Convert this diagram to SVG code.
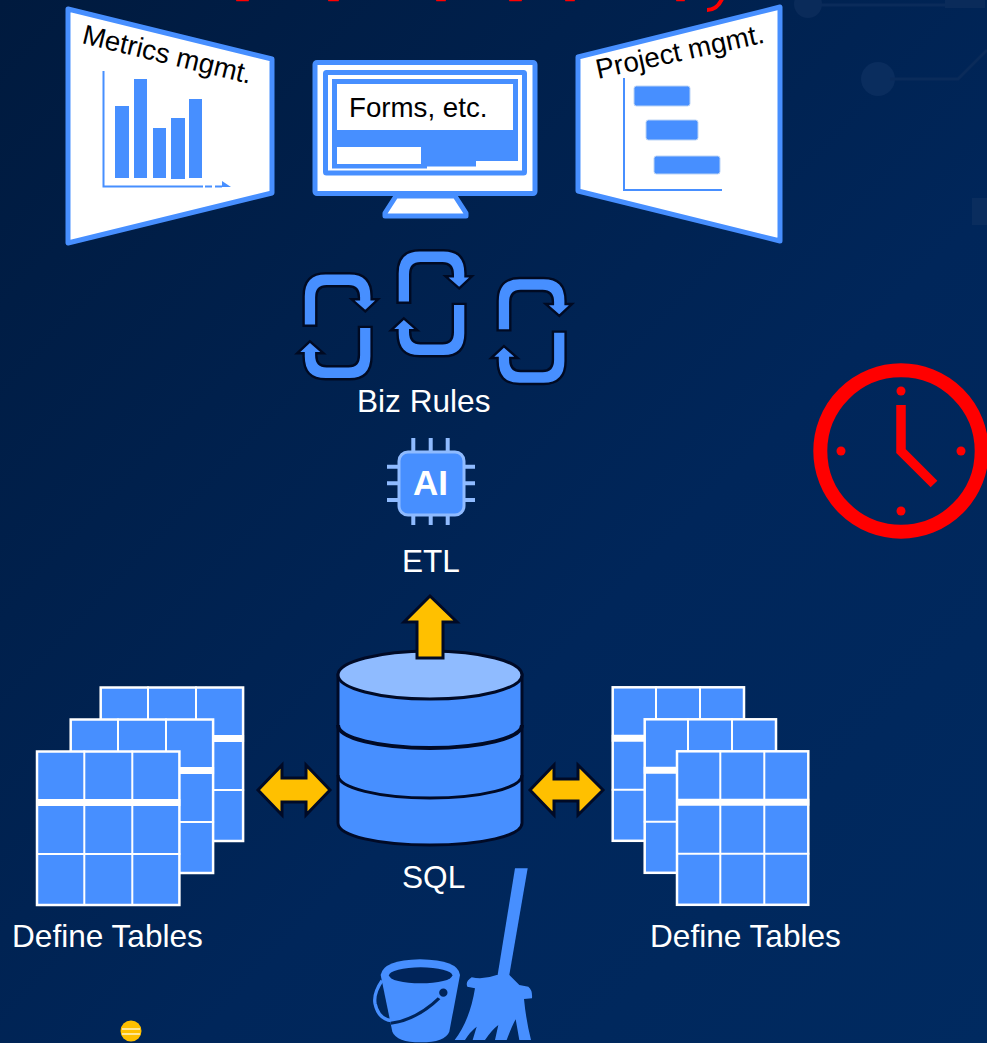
<svg xmlns="http://www.w3.org/2000/svg" xmlns:xlink="http://www.w3.org/1999/xlink" width="987" height="1043" viewBox="0 0 987 1043">
<style>
.lbl{font-family:"Liberation Sans",Arial,sans-serif;font-size:31.600px;fill:#fff}
.dark{font-family:"Liberation Sans",Arial,sans-serif;fill:#000}
.panel{fill:#fff;stroke:#478FFF;stroke-width:5;stroke-linejoin:round}
.b{fill:#478FFF}
.yel{fill:#FFC000;stroke:#000A26;stroke-width:3;stroke-linejoin:miter}
.cyc{fill:#478FFF;stroke:#000A22;stroke-width:2.400}
.pin{stroke:#8FBBFF;stroke-width:4;fill:none}
.db{fill:#478FFF;stroke:#000A26;stroke-width:3}
.circ{fill:none;stroke:#0A2B5A;stroke-width:3}
.gl{stroke:#fff;stroke-width:2;fill:none}
</style>
<defs>
<linearGradient id="bg" x1="0" y1="0" x2="1" y2="1">
<stop offset="0" stop-color="#001A3E"/>
<stop offset="0.6" stop-color="#00265A"/>
<stop offset="1" stop-color="#002A60"/>
</linearGradient>
<g id="cycle">
<path id="cycHalf" class="cyc" d="M-34,-.6V-30Q-34,-53 -12,-53H12Q34,-53 34,-30V-27H40.500L27.700,-15L14,-27H21.300V-29Q21.300,-40 11,-40H-11Q-21.300,-40 -21.300,-29V-.6Z"/>
<use xlink:href="#cycHalf" href="#cycHalf" transform="rotate(180)"/>
</g>
<g id="tbl">
<rect x="1" y="1" width="142.400" height="153.500" fill="#478FFF" stroke="#fff" stroke-width="2.500"/>
<path class="gl" d="M48.300,0V155.500M96.300,0V155.500M0,103.500H144.400"/>
<path d="M0,52H144.400" stroke="#fff" stroke-width="7" fill="none"/>
</g>
<g id="tblr">
<rect x="1" y="1" width="131.300" height="153.500" fill="#478FFF" stroke="#fff" stroke-width="2.500"/>
<path class="gl" d="M44.300,0V155.500M88.300,0V155.500M0,103.500H133.300"/>
<path d="M0,52H133.300" stroke="#fff" stroke-width="7" fill="none"/>
</g>
</defs>

<g id="background">
<rect width="987" height="1043" fill="url(#bg)"/>
<circle cx="808" cy="4" r="14" fill="#0A2B5A"/>
<path class="circ" d="M820,5H950"/>
<rect x="945" y="0" width="40" height="8" fill="#0A2B5A"/>
<circle cx="878" cy="79" r="17" fill="#0A2D5E"/>
<path class="circ" d="M890,79H958L987,50"/>
<rect x="972" y="198" width="15" height="27" fill="#0A2D5E"/>
</g>

<g id="title-fragments" fill="#FF0000">
<rect x="236" y="0" width="13" height="1.200" rx=".6"/>
<rect x="328" y="0" width="11" height="1.200" rx=".6"/>
<rect x="436" y="0" width="10" height="1.200" rx=".6"/>
<rect x="509" y="0" width="13" height="1.200" rx=".6"/>
<rect x="565" y="0" width="10" height="1.200" rx=".6"/>
<rect x="676" y="0" width="9" height="1.200" rx=".6"/>
<path d="M722,-1Q717,10 707,10" fill="none" stroke="#FF0000" stroke-width="4"/>
</g>

<g id="metrics-panel">
<polygon class="panel" points="68,9 272,59 272,193 68,243"/>
<text class="dark" font-size="27.600" transform="translate(81,43) rotate(13.600)">Metrics mgmt.</text>
<path d="M103.500,71V186.500H203" fill="none" stroke="#478FFF" stroke-width="2"/>
<path d="M205,186.500H212M215,186.500H222" stroke="#478FFF" stroke-width="2"/>
<polygon class="b" points="222,181 231,187 222,187"/>
<rect class="b" x="115" y="106" width="14" height="72"/>
<rect class="b" x="134" y="79" width="13" height="99"/>
<rect class="b" x="153" y="128" width="13" height="50"/>
<rect class="b" x="171" y="118" width="14" height="61"/>
<rect class="b" x="189" y="99" width="13" height="79"/>
</g>

<g id="forms-monitor">
<rect class="panel" x="315" y="62.500" width="220" height="131" rx="2"/>
<polygon class="panel" stroke-width="4" points="396,196 455,196 466,213 466,216 385,216 385,213"/>
<rect x="325.500" y="72.500" width="199" height="100.500" rx="1" fill="#fff" stroke="#478FFF" stroke-width="5"/>
<path d="M334.500,166V81.500H515.500V135" fill="none" stroke="#478FFF" stroke-width="5"/>
<path class="b" d="M332,130H518V161H476V166.500H427V168.500H332Z"/>
<rect x="337" y="147" width="84" height="17" fill="#fff"/>
<text class="dark" x="349" y="116.500" font-size="27.700">Forms, etc.</text>
</g>

<g id="project-panel">
<polygon class="panel" points="578,57 780,7 780,241 578,191"/>
<text class="dark" font-size="27.800" transform="translate(598,79) rotate(-12.300)">Project mgmt.</text>
<path d="M624,78V190H722" fill="none" stroke="#478FFF" stroke-width="2"/>
<rect class="b" x="634" y="86" width="56" height="20" rx="2.500" stroke="#BCD4F5" stroke-width="1"/>
<rect class="b" x="646" y="120" width="52" height="20" rx="2.500" stroke="#BCD4F5" stroke-width="1"/>
<rect class="b" x="654" y="156" width="66" height="18" rx="2.500" stroke="#BCD4F5" stroke-width="1"/>
</g>

<g id="biz-rules">
<use xlink:href="#cycle" href="#cycle" transform="translate(337.600,326.300)"/>
<use xlink:href="#cycle" href="#cycle" transform="translate(431.500,303.300)"/>
<use xlink:href="#cycle" href="#cycle" transform="translate(531.600,331)"/>
<text class="lbl" x="357" y="412">Biz Rules</text>
</g>

<g id="etl">
<path class="pin" d="M413.300,438V452M430.700,438V452M447.700,438V452M413.300,515V525M430.700,515V525M447.700,515V525M387,466.700H398M387,483.300H398M387,500H398M464,466.700H475M464,483.300H475M464,500H475"/>
<rect x="399" y="452" width="65" height="63" rx="9" fill="#478FFF" stroke="#8FBBFF" stroke-width="3"/>
<text x="430.500" y="495" text-anchor="middle" font-family="'Liberation Sans',Arial,sans-serif" font-weight="700" font-size="35" fill="#fff">AI</text>
<text class="lbl" x="402" y="572">ETL</text>
</g>

<g id="sql">
<path class="db" d="M338,675V823C338,836 379,845 430,845C481,845 522,836 522,823V675Z"/>
<path d="M338,725C338,738 379,748 430,748C481,748 522,738 522,725" fill="none" stroke="#000A26" stroke-width="4"/>
<path d="M338,775C338,788 379,798 430,798C481,798 522,788 522,775" fill="none" stroke="#000A26" stroke-width="3"/>
<ellipse cx="430" cy="675" rx="92" ry="24" fill="#8FBBFF" stroke="#000A26" stroke-width="3"/>
<text class="lbl" x="402" y="888">SQL</text>
</g>

<g id="tables-left">
<use xlink:href="#tbl" href="#tbl" transform="translate(99.700,686.500)"/>
<use xlink:href="#tbl" href="#tbl" transform="translate(69.700,718.500)"/>
<use xlink:href="#tbl" href="#tbl" transform="translate(36,750.500)"/>
<text class="lbl" x="12" y="947">Define Tables</text>
</g>

<g id="tables-right">
<use xlink:href="#tblr" href="#tblr" transform="translate(611.700,686.300)"/>
<use xlink:href="#tblr" href="#tblr" transform="translate(643.700,718.300)"/>
<use xlink:href="#tblr" href="#tblr" transform="translate(676,750.300)"/>
<text class="lbl" x="650" y="947">Define Tables</text>
</g>

<g id="connectors">
<polygon class="yel" points="430,596 404,622 417,622 417,658 443,658 443,622 457,622"/>
<polygon class="yel" points="258,790 282,765 282,778 306,778 306,765 330,790 306,815 306,802 282,802 282,815"/>
<polygon class="yel" points="530,790 554,765 554,779 578,779 578,765 603,790 578,815 578,801 554,801 554,815"/>
</g>

<g id="clock" fill="#FF0000">
<circle cx="901" cy="451" r="80.700" fill="none" stroke="#FF0000" stroke-width="14"/>
<circle cx="901" cy="391" r="4.500"/>
<circle cx="901" cy="511" r="4.500"/>
<circle cx="841" cy="451" r="4.500"/>
<circle cx="961" cy="451" r="4.500"/>
<path d="M901,405V451L934,484" fill="none" stroke="#FF0000" stroke-width="9.500"/>
</g>

<g id="cleanup" transform="translate(360,860) scale(.33333)">
<path class="b" d="M465,25H503L447,350H412Z"/>
<path class="b" d="M410,345L448,345L478,375L505,380Q518,390 516,415L492,417Q498,480 513,540L478,540L467,478Q455,500 440,540L405,540L415,495Q395,510 375,540L338,540L350,500Q330,515 315,540L284,540Q330,480 345,385L322,380Q315,365 335,352Q370,360 410,345Z"/>
<path class="b" d="M62,345Q70,300 180,298Q295,300 300,345L268,515Q255,547 182,547Q110,547 97,515Z"/>
<ellipse cx="182" cy="346" rx="95" ry="24" fill="#00245A"/>
<path d="M66,362Q40,400 45,430Q55,478 95,482" fill="none" stroke="#478FFF" stroke-width="10"/>
<path d="M92,490Q170,480 240,412" fill="none" stroke="#00245A" stroke-width="9"/>
<circle cx="250" cy="398" r="17" fill="#00245A" stroke="#478FFF" stroke-width="9"/>
</g>

<g id="coin">
<circle cx="131" cy="1031" r="10.500" fill="#FFC000"/>
<path d="M122,1029H140M122,1034H140" stroke="#FFF2C8" stroke-width="1.500"/>
</g>
</svg>
